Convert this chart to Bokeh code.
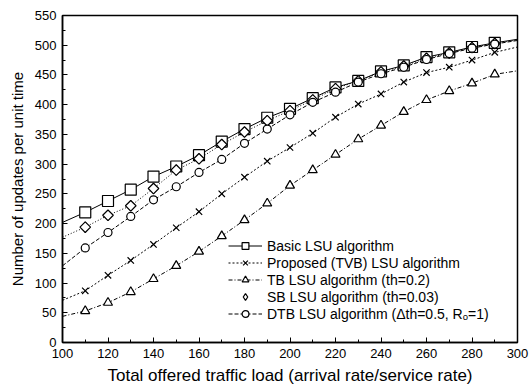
from bokeh.plotting import figure
from bokeh.models import Legend, LegendItem, Range1d, FixedTicker
from bokeh.embed import file_html
from bokeh.resources import INLINE
import math

load = [100, 110, 120, 130, 140, 150, 160, 170, 180, 190, 200,
        210, 220, 230, 240, 250, 260, 270, 280, 290, 300]
basic = [202, 219, 238, 257, 279, 296, 315, 338, 359, 378, 393,
         411, 429, 440, 456, 466, 480, 488, 497, 504, 510]
tvb = [71, 87, 113, 138, 165, 193, 220, 250, 278, 305, 328,
       352, 379, 401, 418, 438, 454, 463, 475, 488, 497]
tb = [44, 53, 67, 85, 107, 129, 153, 179, 206, 234, 264,
      290, 316, 342, 365, 388, 408, 423, 436, 451, 457]
sb = [177, 194, 214, 230, 259, 290, 309, 333, 354, 373, 390,
      408, 427, 440, 455, 465, 478, 487, 496, 503, 509]
dtb = [129, 159, 185, 212, 240, 262, 286, 308, 335, 359, 383,
       404, 421, 438, 452, 463, 476, 486, 495, 502, 508]

labels = ["Basic LSU algorithm",
          "Proposed (TVB) LSU algorithm",
          "TB LSU algorithm (th=0.2)",
          "SB LSU algorithm (th=0.03)",
          "DTB LSU algorithm (\u0394th=0.5, R\u2092=1)"]

x_ticks = [100, 120, 140, 160, 180, 200, 220, 240, 260, 280, 300]
y_ticks = [0, 50, 100, 150, 200, 250, 300, 350, 400, 450, 500, 550]

FONT = "Liberation Sans"

p = figure(width=530, height=388, output_backend="svg", toolbar_location=None,
           x_range=Range1d(100, 300), y_range=Range1d(0, 550),
           min_border_left=62, min_border_right=13, min_border_top=15,
           min_border_bottom=46)
p.xgrid.visible = False
p.ygrid.visible = False
p.outline_line_color = "black"
p.outline_line_width = 1.5
p.background_fill_color = "white"
p.border_fill_color = "white"

p.xaxis.ticker = FixedTicker(ticks=x_ticks, minor_ticks=list(range(100, 301, 10)))
p.yaxis.ticker = FixedTicker(ticks=y_ticks, minor_ticks=list(range(0, 551, 25)))
for ax in (p.xaxis, p.yaxis):
    ax.axis_line_color = "black"
    ax.axis_line_width = 1.5
    ax.major_tick_in = 5
    ax.major_tick_out = 0
    ax.minor_tick_in = 3
    ax.minor_tick_out = 0
    ax.major_tick_line_color = "black"
    ax.minor_tick_line_color = "black"
    ax.major_label_text_font = FONT
    ax.major_label_text_font_size = "13px"
    ax.major_label_text_color = "black"
    ax.axis_label_text_font = FONT
    ax.axis_label_text_font_style = "normal"
    ax.axis_label_text_color = "black"
p.xaxis.axis_label = "Total offered traffic load (arrival rate/service rate)"
p.yaxis.axis_label = "Number of updates per unit time"
p.xaxis.axis_label_text_font_size = "17px"
p.yaxis.axis_label_text_font_size = "15px"
p.xaxis.major_label_standoff = 6
p.yaxis.major_label_standoff = 6
p.xaxis.axis_label_standoff = 5
p.yaxis.axis_label_standoff = 6

mx = load[1:-1]

# lines
l_basic = p.line(load, basic, line_color="black", line_width=1)
l_tvb = p.line(load, tvb, line_color="black", line_width=1, line_dash="2 2")
l_tb = p.line(load, tb, line_color="black", line_width=1, line_dash="4 2 1 2")
l_sb = p.line(load, sb, line_color="black", line_width=1, line_dash="1 2")
l_dtb = p.line(load, dtb, line_color="black", line_width=1, line_dash="4 2")

# markers
m_basic = p.scatter(mx, basic[1:-1], marker="square", size=11, line_color="black",
                    line_width=1.2, fill_color="white")
# diamond key (used by the legend); fully covered by the rotated squares below
m_sb_key = p.scatter(mx, sb[1:-1], marker="diamond", size=10, line_color="black",
                     line_width=1.2, fill_color="white")
m_sb = p.scatter(mx, sb[1:-1], marker="square", size=7.5, angle=math.pi / 4,
                 line_color="black", line_width=1.2, fill_color="white")
m_dtb = p.scatter(mx, dtb[1:-1], marker="circle", size=8, line_color="black",
                  line_width=1.2, fill_color="white")
m_tvb = p.scatter(mx, tvb[1:-1], marker="x", size=9, line_color="black",
                  line_width=1.2)
m_tb = p.scatter(mx, tb[1:-1], marker="triangle", size=9, line_color="black",
                 line_width=1.2, fill_color="white")

legend = Legend(items=[
    LegendItem(label=labels[0], renderers=[l_basic, m_basic]),
    LegendItem(label=labels[1], renderers=[l_tvb, m_tvb]),
    LegendItem(label=labels[2], renderers=[l_tb, m_tb]),
    LegendItem(label=labels[3], renderers=[m_sb_key]),
    LegendItem(label=labels[4], renderers=[l_dtb, m_dtb]),
], location=(166, 20))
legend.label_text_font = FONT
legend.label_text_font_size = "14px"
legend.label_text_color = "black"
legend.label_height = 17
legend.glyph_height = 17
legend.glyph_width = 34
legend.label_standoff = 5
legend.spacing = 0
legend.padding = 0
legend.margin = 0
legend.border_line_alpha = 0
legend.background_fill_alpha = 0
p.add_layout(legend)

open("out.html", "w").write(file_html(p, INLINE))
